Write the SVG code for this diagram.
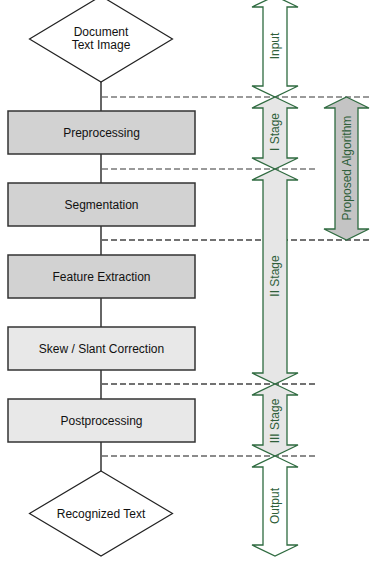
<svg xmlns="http://www.w3.org/2000/svg" width="372" height="562" viewBox="0 0 372 562">
<style>
.box{stroke:#333;stroke-width:1.5}
.dark{fill:#d2d2d2}
.light{fill:#e8e8e8}
.dia{fill:#fff;stroke:#222;stroke-width:1.2}
.t{font-family:"Liberation Sans",Arial,sans-serif;font-size:12px;fill:#111;text-anchor:middle}
.c{dominant-baseline:central}
.arr{stroke:#2f6b40;stroke-width:1.3}
.at{font-family:"Liberation Sans",Arial,sans-serif;font-size:12px;fill:#2f5f3a;text-anchor:middle;dominant-baseline:central}
.conn{stroke:#333;stroke-width:1.5;fill:none}
.dash{stroke-width:1.5;stroke-dasharray:6,3;fill:none}
</style>
<rect width="372" height="562" fill="#fff"/>
<g id="connectors">
<line class="conn" x1="101" y1="82" x2="101" y2="111"/>
<line class="conn" x1="101" y1="154" x2="101" y2="183"/>
<line class="conn" x1="101" y1="226" x2="101" y2="255"/>
<line class="conn" x1="101" y1="298" x2="101" y2="327"/>
<line class="conn" x1="101" y1="370" x2="101" y2="399"/>
<line class="conn" x1="101" y1="442" x2="101" y2="471"/>
</g>
<g id="dividers">
<line class="dash" stroke="#7a7a7a" x1="102" y1="97" x2="372" y2="97"/>
<line class="dash" stroke="#7a7a7a" x1="102" y1="169" x2="318" y2="169"/>
<line class="dash" stroke="#444" x1="102" y1="240" x2="372" y2="240"/>
<line class="dash" stroke="#444" x1="102" y1="384" x2="318" y2="384"/>
<line class="dash" stroke="#666" x1="102" y1="456" x2="318" y2="456"/>
</g>
<g id="n-document">
<polygon class="dia" points="101,-4 172.5,39 101,82 29.5,39"/>
<text class="t" x="101" y="36">Document</text>
<text class="t" x="101" y="49">Text Image</text>
</g>
<g id="n-preprocessing">
<rect class="box dark" x="8" y="111" width="187" height="43"/>
<text class="t c" x="101.5" y="132.5">Preprocessing</text>
</g>
<g id="n-segmentation">
<rect class="box dark" x="8" y="183" width="187" height="43"/>
<text class="t c" x="101.5" y="204.5">Segmentation</text>
</g>
<g id="n-feature">
<rect class="box dark" x="8" y="255" width="187" height="43"/>
<text class="t c" x="101.5" y="276.5">Feature Extraction</text>
</g>
<g id="n-skew">
<rect class="box light" x="8" y="327" width="187" height="43"/>
<text class="t c" x="101.5" y="348.5">Skew / Slant Correction</text>
</g>
<g id="n-postprocessing">
<rect class="box light" x="8" y="399" width="187" height="43"/>
<text class="t c" x="101.5" y="420.5">Postprocessing</text>
</g>
<g id="n-recognized">
<polygon class="dia" points="101,471 172.5,513.5 101,556 29.5,513.5"/>
<text class="t c" x="101" y="513.5">Recognized Text</text>
</g>
<g id="a-input">
<polygon class="arr" fill="#fff" points="275,-4 298,7 287,7 287,86 298,86 275,97 252,86 263,86 263,7 252,7"/>
<text class="at" transform="rotate(-90 275 46)" x="275" y="46">Input</text>
</g>
<g id="a-stage1">
<polygon class="arr" fill="#e6e6e6" points="275,97 298,108 287,108 287,158 298,158 275,169 252,158 263,158 263,108 252,108"/>
<text class="at" transform="rotate(-90 275 132)" x="275" y="132">I Stage</text>
</g>
<g id="a-stage2">
<polygon class="arr" fill="#e6e6e6" points="275,169 298,180 287,180 287,373 298,373 275,384 252,373 263,373 263,180 252,180"/>
<text class="at" transform="rotate(-90 275 276)" x="275" y="276">II Stage</text>
</g>
<g id="a-stage3">
<polygon class="arr" fill="#e6e6e6" points="275,384 298,395 287,395 287,445 298,445 275,456 252,445 263,445 263,395 252,395"/>
<text class="at" transform="rotate(-90 275 421)" x="275" y="421">III Stage</text>
</g>
<g id="a-output">
<polygon class="arr" fill="#fff" points="275,456 298,467 287,467 287,545 298,545 275,556 252,545 263,545 263,467 252,467"/>
<text class="at" transform="rotate(-90 275 506)" x="275" y="506">Output</text>
</g>
<g id="a-proposed">
<polygon class="arr" fill="#c4c4c4" points="346.5,97 369,108 358,108 358,229 369,229 346.5,240 324,229 335,229 335,108 324,108"/>
<text class="at" transform="rotate(-90 346.5 168)" x="346.5" y="168">Proposed Algorithm</text>
</g>
</svg>
